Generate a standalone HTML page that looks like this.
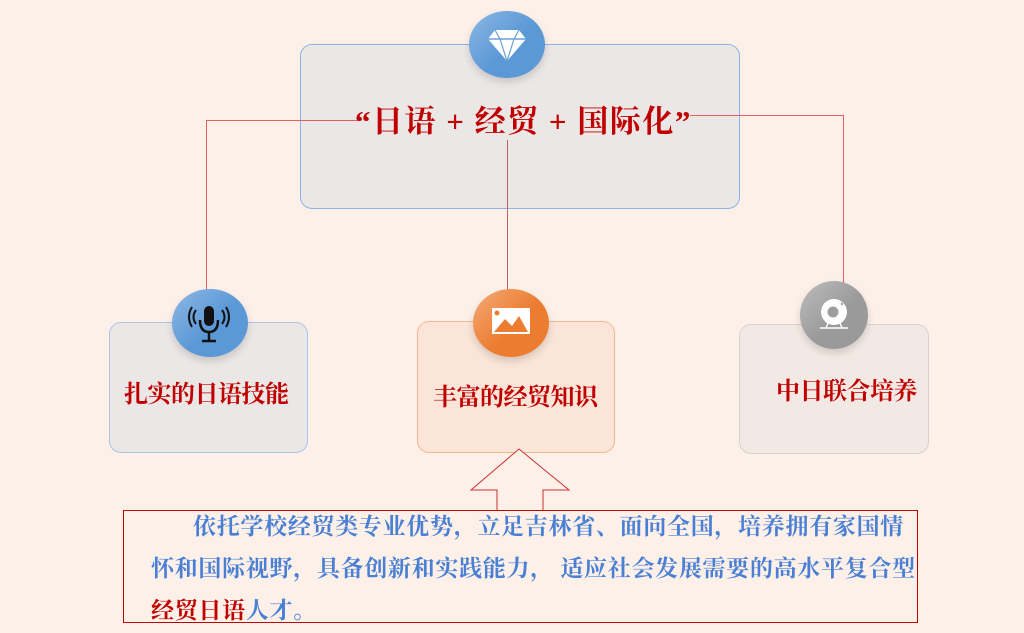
<!DOCTYPE html>
<html><head><meta charset="utf-8"><style>
body{margin:0;width:1024px;height:633px;background:#fdf0e9;position:relative;overflow:hidden;font-family:"Liberation Serif","Noto Serif CJK SC",serif;}
.a{position:absolute;}
.box{position:absolute;border-radius:12px;box-sizing:border-box;}
.c{position:absolute;border-radius:50%;box-shadow:0 4px 8px rgba(0,0,0,0.15);}
.t{position:absolute;font-weight:bold;color:#c00000;white-space:nowrap;}
.ln{position:absolute;background:#e06060;}
.p{position:absolute;white-space:pre;font-weight:bold;color:#4a80d4;font-size:23px;letter-spacing:0.7px;line-height:30px;}
</style></head><body>
<div class="box" style="left:300px;top:44px;width:440px;height:165px;background:#ebe7e6;border:1px solid #8bb4e4;"></div>
<div class="box" style="left:109px;top:322px;width:199px;height:131px;background:#ebe7e6;border:1px solid #a9c6ea;"></div>
<div class="box" style="left:417px;top:321px;width:198px;height:132px;background:#fae5d8;border:1px solid #f4b88e;"></div>
<div class="box" style="left:739px;top:324px;width:190px;height:130px;background:#f3e9e4;border:1px solid #d8d2ce;"></div>

<div class="ln" style="left:206px;top:120px;width:152px;height:1px"></div>
<div class="ln" style="left:206px;top:120px;width:1px;height:170px"></div>
<div class="ln" style="left:507px;top:140px;width:1px;height:150px;background:#c06060"></div>
<div class="ln" style="left:690px;top:115px;width:153px;height:1px"></div>
<div class="ln" style="left:843px;top:115px;width:1px;height:168px"></div>

<div class="c" style="left:469px;top:11px;width:76px;height:67px;background:linear-gradient(135deg,#8db8e4,#5a98d6 55%);"></div>
<svg class="a" style="left:487px;top:28px" width="40" height="34" viewBox="0 0 40 34"><polygon points="8,2 32,2 39,11 20,33 1,11" fill="#fff"/><polyline points="1,11 39,11" stroke="#6aa0d8" stroke-width="1.5" fill="none"/><polyline points="8,2 13,11 20,33 27,11 32,2" stroke="#6aa0d8" stroke-width="1.2" fill="none"/></svg>
<div class="t" style="left:355px;top:96px;font-size:31px;letter-spacing:1.5px;">“日语 + 经贸 + 国际化”</div>

<div class="c" style="left:172px;top:289px;width:76px;height:68px;background:linear-gradient(135deg,#8db8e4,#5a98d6 55%);"></div>
<svg class="a" style="left:186px;top:304px" width="46" height="40" viewBox="0 0 46 40"><rect x="18" y="2" width="10" height="20" rx="5" fill="#111"/><path d="M14 16 Q14 28 23 28 Q32 28 32 16" stroke="#111" stroke-width="2.5" fill="none"/><line x1="23" y1="28" x2="23" y2="36" stroke="#111" stroke-width="2.5"/><line x1="16" y1="37" x2="30" y2="37" stroke="#111" stroke-width="2.5"/><path d="M10 6 Q5 13 10 20 M6 3 Q0 13 6 23 M36 6 Q41 13 36 20 M40 3 Q46 13 40 23" stroke="#111" stroke-width="2" fill="none"/></svg>
<div class="t" style="left:124px;top:374px;font-size:24px;letter-spacing:-0.5px;">扎实的日语技能</div>

<div class="c" style="left:473px;top:289px;width:76px;height:68px;background:linear-gradient(135deg,#f3ab78,#ec7c30 55%);"></div>
<svg class="a" style="left:492px;top:308px" width="38" height="26" viewBox="0 0 38 26"><rect x="0" y="0" width="38" height="26" fill="#fff"/><polygon points="2,24 13,11 20,18 27,8 36,24" fill="#ec7c30"/><circle cx="5" cy="5" r="2.5" fill="#ec7c30"/></svg>
<div class="t" style="left:433px;top:377px;font-size:24px;letter-spacing:-0.5px;">丰富的经贸知识</div>

<div class="c" style="left:800px;top:281px;width:68px;height:68px;background:linear-gradient(135deg,#bdbdbd,#9a9a9a 55%);"></div>
<svg class="a" style="left:816px;top:297px" width="36" height="34" viewBox="0 0 36 34"><circle cx="18" cy="15" r="13" fill="#fff"/><circle cx="17" cy="15" r="5.5" fill="#9e9e9e"/><circle cx="26" cy="7" r="1.2" fill="#9e9e9e"/><line x1="4" y1="31" x2="32" y2="31" stroke="#fff" stroke-width="1.5"/><line x1="12" y1="26" x2="10" y2="31" stroke="#fff" stroke-width="1.5"/><line x1="24" y1="26" x2="26" y2="31" stroke="#fff" stroke-width="1.5"/></svg>
<div class="t" style="left:776px;top:371px;font-size:24px;letter-spacing:-0.5px;">中日联合培养</div>

<svg class="a" style="left:0;top:0" width="1024" height="633"><polygon points="519,449 569,490 543,490 543,510.5 497,510.5 497,490 471,490" fill="#fdf0e9" stroke="#d03030" stroke-width="1"/><rect x="123.5" y="510.5" width="794" height="112" fill="none" stroke="#c00000" stroke-width="1"/></svg>

<div class="p" style="left:193px;top:512px;">依托学校经贸类专业优势，立足吉林省、面向全国，培养拥有家国情</div>
<div class="p" style="left:151px;top:554px;">怀和国际视野，具备创新和实践能力， 适应社会发展需要的高水平复合型</div>
<div class="p" style="left:151px;top:596px;"><span style="color:#c00000">经贸日语</span>人才。</div>
</body></html>
